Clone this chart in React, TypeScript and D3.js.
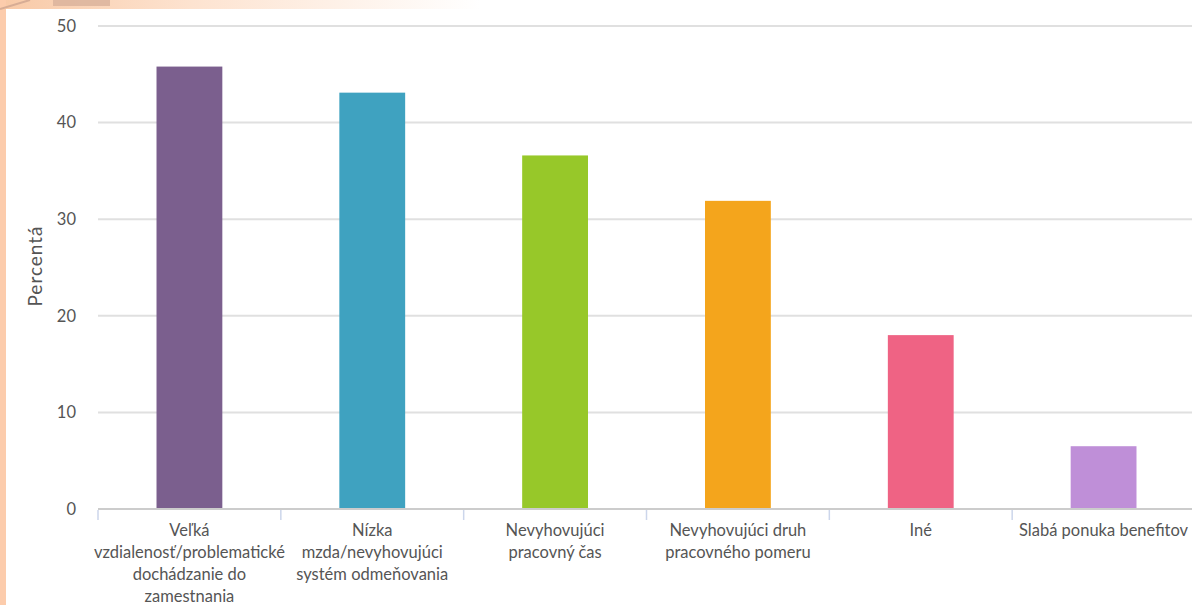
import React, { useEffect, useRef } from "react";
import * as d3 from "d3";

const categories: string[][] = [
  ["Veľká", "vzdialenosť/problematické", "dochádzanie do", "zamestnania"],
  ["Nízka", "mzda/nevyhovujúci", "systém odmeňovania"],
  ["Nevyhovujúci", "pracovný čas"],
  ["Nevyhovujúci druh", "pracovného pomeru"],
  ["Iné"],
  ["Slabá ponuka benefitov"],
];
const values: number[] = [45.8, 43.1, 36.6, 31.9, 18.0, 6.5];
const colors: string[] = ["#7b5f8e", "#3fa2c0", "#97c829", "#f4a51c", "#ef6384", "#bf8fd8"];
const yTicks: number[] = [0, 10, 20, 30, 40, 50];
const yLabel = "Percentá";

const W = 1192;
const H = 605;
const FONT = "Lato, 'Open Sans', sans-serif";

export default function App() {
  const ref = useRef<SVGSVGElement>(null);
  useEffect(() => {
    const svg = d3.select(ref.current);
    svg.selectAll("*").remove();

    const defs = svg.append("defs");
    const g1 = defs.append("linearGradient").attr("id", "topfade").attr("x1", 0).attr("x2", 1);
    g1.append("stop").attr("offset", 0).attr("stop-color", "#f8c9a6");
    g1.append("stop").attr("offset", 0.4).attr("stop-color", "#fde3d0");
    g1.append("stop").attr("offset", 1).attr("stop-color", "#ffffff");

    // background
    svg.append("rect").attr("width", W).attr("height", H).attr("fill", "#ffffff");
    svg.append("rect").attr("x", 0).attr("y", 0).attr("width", 480).attr("height", 9).attr("fill", "url(#topfade)");
    svg.append("rect").attr("x", 0).attr("y", 0).attr("width", 6).attr("height", H).attr("fill", "#fcccac");
    svg.append("rect").attr("x", 53).attr("y", 0).attr("width", 57).attr("height", 6).attr("fill", "#d9b29b").attr("opacity", 0.8);
    svg.append("line").attr("x1", 0).attr("y1", 9).attr("x2", 30).attr("y2", 0).attr("stroke", "#d7ad95").attr("stroke-width", 2);

    const x0 = 98, x1 = 1195;
    const y = d3.scaleLinear().domain([0, 50]).range([509, 26]);
    const x = d3.scaleBand<number>().domain(d3.range(categories.length)).range([x0, x1]).paddingInner(0.64).paddingOuter(0.32);

    // gridlines
    svg.append("g").selectAll("line").data(yTicks.filter(t => t > 0)).join("line")
      .attr("x1", x0).attr("x2", W).attr("y1", d => y(d)).attr("y2", d => y(d))
      .attr("stroke", "#e0e0e0").attr("stroke-width", 2);

    // y tick labels
    svg.append("g").selectAll("text").data(yTicks).join("text")
      .attr("x", 76).attr("y", d => y(d)).attr("dy", "0.35em").attr("text-anchor", "end")
      .attr("font-family", FONT).attr("font-size", 16.5).attr("fill", "#555")
      .text(d => String(d));

    // y axis title
    svg.append("text").attr("transform", `translate(42,266) rotate(-90)`)
      .attr("text-anchor", "middle").attr("font-family", FONT).attr("font-size", 19).attr("fill", "#555")
      .attr("letter-spacing", 1)
      .text(yLabel);

    // bars
    svg.append("g").selectAll("rect").data(values).join("rect")
      .attr("x", (_, i) => x(i)!).attr("width", x.bandwidth())
      .attr("y", d => y(d)).attr("height", d => y(0) - y(d))
      .attr("fill", (_, i) => colors[i]);

    // x axis line
    svg.append("line").attr("x1", x0).attr("x2", W).attr("y1", y(0)).attr("y2", y(0))
      .attr("stroke", "#cccccc").attr("stroke-width", 2);

    // tick marks at band boundaries
    const step = x.step();
    const bounds = d3.range(categories.length + 1).map(i => x0 + i * step);
    svg.append("g").selectAll("line").data(bounds).join("line")
      .attr("x1", d => d).attr("x2", d => d).attr("y1", y(0) + 1).attr("y2", y(0) + 11)
      .attr("stroke", "#ccd6eb").attr("stroke-width", 1.5);

    // x labels
    const lg = svg.append("g");
    categories.forEach((lines, i) => {
      const cx = x(i)! + x.bandwidth() / 2;
      const t = lg.append("text").attr("text-anchor", "middle")
        .attr("font-family", FONT).attr("font-size", 16.5).attr("fill", "#555");
      lines.forEach((ln, j) => {
        t.append("tspan").attr("x", cx).attr("y", 536 + j * 22).text(ln);
      });
    });
  }, []);
  return (
    <svg ref={ref} width={W} height={H} style={{ position: "absolute", left: 0, top: 0, display: "block" }} />
  );
}
